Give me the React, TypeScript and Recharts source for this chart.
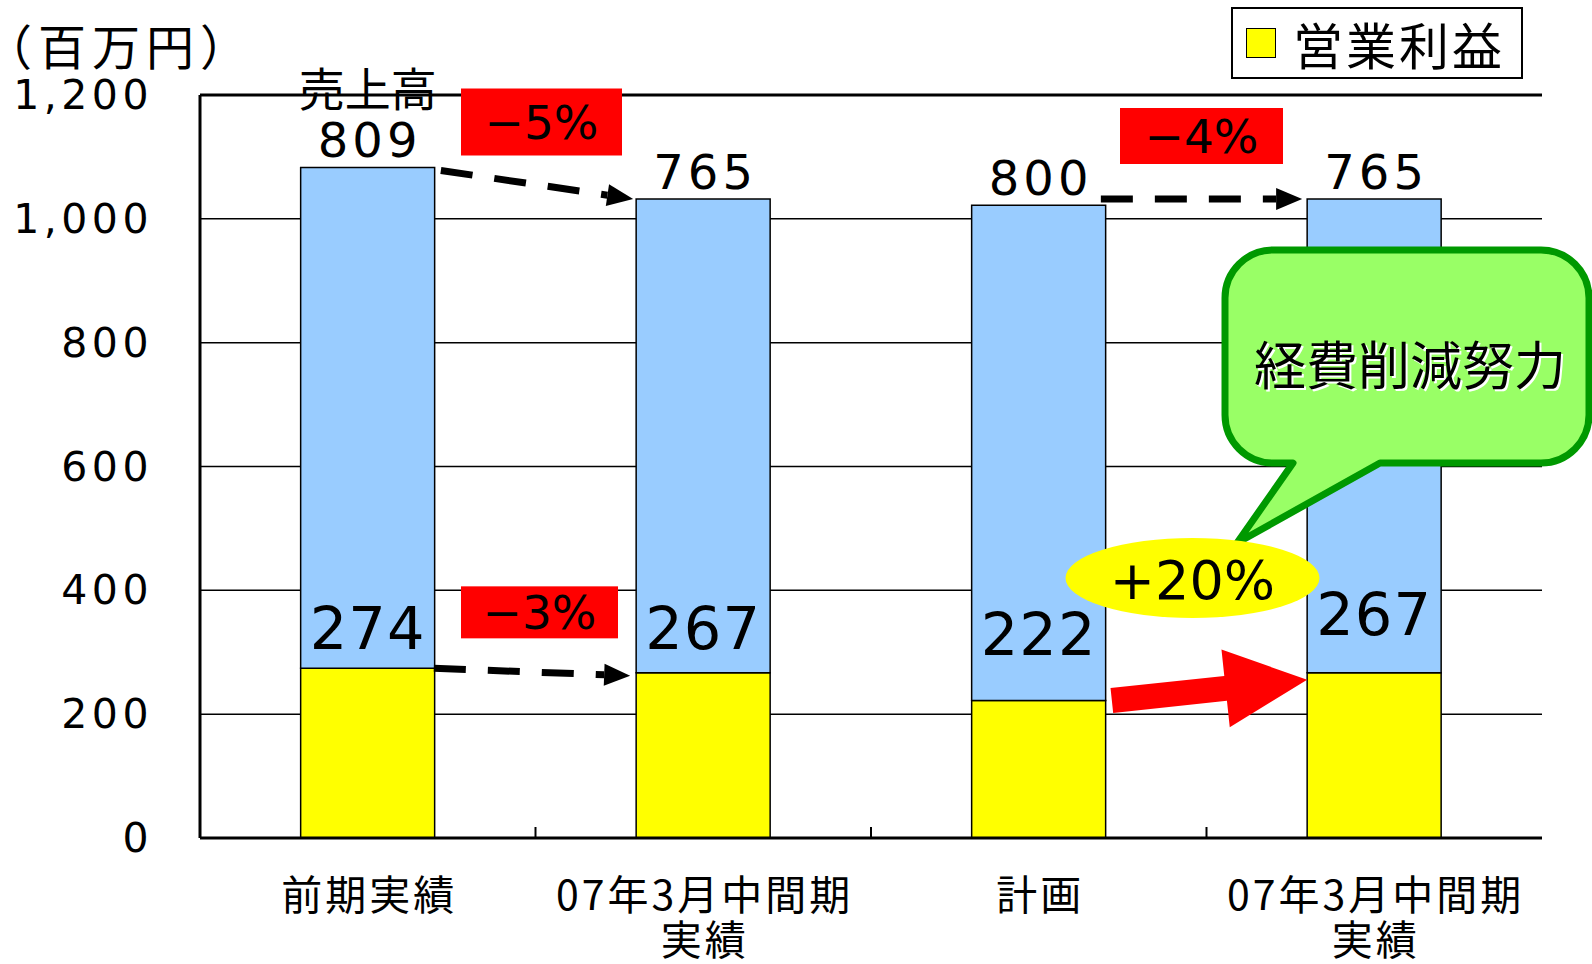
import {
  BarChart,
  Bar,
  XAxis,
  YAxis,
  CartesianGrid,
  LabelList,
  Legend,
  ReferenceLine,
} from "recharts";

const CATEGORIES = ["前期実績", "07年3月中間期\n実績", "計画", "07年3月中間期\n実績"];
const PROFIT = [274, 267, 222, 267]; // 営業利益 (yellow)
const SALES = [809, 765, 800, 765]; // 売上高 (blue, stacked on top)
const Y_TICKS = [0, 200, 400, 600, 800, 1000, 1200];

// how far above the yellow top each profit label sits (px)
const PROFIT_LABEL_LIFT = [19, 24, 46, 38];

const rows = CATEGORIES.map((name, i) => ({
  name,
  profit: PROFIT[i],
  sales: SALES[i],
}));

const NUM = "'DejaVu Sans', sans-serif";
const JP = "'Noto Sans CJK JP', sans-serif";

const W = 1592;
const H = 964;
const PLOT_L = 200;
const PLOT_R = 1542;
const PLOT_T = 95;
const PLOT_B = 838;
const Y_MAX = 1200;
const BAND = (PLOT_R - PLOT_L) / CATEGORIES.length;
const BAR_W = BAND * 0.4;

const cx = (i: number) => PLOT_L + BAND * (i + 0.5);
const barLeft = (i: number) => cx(i) - BAR_W / 2;
const barRight = (i: number) => cx(i) + BAR_W / 2;
const yv = (v: number) => PLOT_B - (v / Y_MAX) * (PLOT_B - PLOT_T);
const total = (i: number) => PROFIT[i] + SALES[i];

function XTick({ x, y, payload, index }: any) {
  const lines = String(payload.value).split("\n");
  return (
    <g>
      {lines.map((line, k) => (
        <text
          key={k}
          x={x + 1.5}
          y={y + 54 + k * 45}
          textAnchor="middle"
          dominantBaseline="central"
          fontFamily={JP}
          fontSize={41}
          letterSpacing={3}
          fill="#000"
        >
          {line}
        </text>
      ))}
      {index < CATEGORIES.length - 1 && (
        <line x1={x + BAND / 2} x2={x + BAND / 2} y1={y} y2={y - 11} stroke="#000" strokeWidth={2} />
      )}
    </g>
  );
}

function YTick({ x, y, payload }: any) {
  return (
    <text
      x={x}
      y={y}
      textAnchor="end"
      dominantBaseline="central"
      fontFamily={NUM}
      fontSize={41}
      letterSpacing={4.5}
      fill="#000"
    >
      {Number(payload.value).toLocaleString("en-US")}
    </text>
  );
}

const SalesLabel = (p: any) => (
  <text
    x={p.x + p.width / 2 + 2}
    y={p.y - 10}
    textAnchor="middle"
    fontFamily={NUM}
    fontSize={48}
    letterSpacing={4}
    fill="#000"
  >
    {p.value}
  </text>
);

const ProfitLabel = (p: any) => (
  <text
    x={p.x + p.width / 2}
    y={p.y - PROFIT_LABEL_LIFT[p.index]}
    textAnchor="middle"
    fontFamily={NUM}
    fontSize={59}
    letterSpacing={1}
    fill="#000"
  >
    {p.value}
  </text>
);

const renderLegend = (props: any) => {
  const item = (props.payload || []).find((d: any) => d.value === "営業利益");
  return (
    <div
      style={{
        boxSizing: "border-box",
        width: 292,
        height: 72,
        border: "2px solid #000",
        background: "#fff",
        display: "flex",
        alignItems: "center",
        paddingLeft: 13,
      }}
    >
      <span
        style={{
          display: "inline-block",
          boxSizing: "border-box",
          width: 30,
          height: 30,
          background: item?.color ?? "#FFFF00",
          border: "1.5px solid #000",
        }}
      />
      <span style={{ marginLeft: 17, fontFamily: JP, fontSize: 50, letterSpacing: 3, lineHeight: 1 }}>
        営業利益
      </span>
    </div>
  );
};

function DashedArrow({ x1, y1, x2, y2 }: { x1: number; y1: number; x2: number; y2: number }) {
  const len = Math.hypot(x2 - x1, y2 - y1);
  const ux = (x2 - x1) / len;
  const uy = (y2 - y1) / len;
  const head = 26;
  const hw = 11;
  const bx = x2 - ux * head;
  const by = y2 - uy * head;
  return (
    <g>
      <line x1={x1} y1={y1} x2={bx} y2={by} stroke="#000" strokeWidth={7} strokeDasharray="32 22" />
      <polygon
        points={`${x2},${y2} ${bx - uy * hw},${by + ux * hw} ${bx + uy * hw},${by - ux * hw}`}
        fill="#000"
      />
    </g>
  );
}

function BlockArrow({ x1, y1, x2, y2 }: { x1: number; y1: number; x2: number; y2: number }) {
  const len = Math.hypot(x2 - x1, y2 - y1);
  const ux = (x2 - x1) / len;
  const uy = (y2 - y1) / len;
  const nx = -uy;
  const ny = ux;
  const head = 82;
  const sw = 12.5;
  const hw = 39;
  const bx = x2 - ux * head;
  const by = y2 - uy * head;
  const pts = [
    [x1 + nx * sw, y1 + ny * sw],
    [bx + nx * sw, by + ny * sw],
    [bx + nx * hw, by + ny * hw],
    [x2, y2],
    [bx - nx * hw, by - ny * hw],
    [bx - nx * sw, by - ny * sw],
    [x1 - nx * sw, y1 - ny * sw],
  ];
  return <polygon points={pts.map((p) => p.join(",")).join(" ")} fill="#FF0000" />;
}

function RedTag({ x, y, w, h, text }: { x: number; y: number; w: number; h: number; text: string }) {
  return (
    <g>
      <rect x={x - w / 2} y={y - h / 2} width={w} height={h} fill="#FF0000" />
      <text
        x={x}
        y={y}
        textAnchor="middle"
        dominantBaseline="central"
        fontFamily={NUM}
        fontSize={47}
        fill="#000"
      >
        {text}
      </text>
    </g>
  );
}

function Bubble() {
  const x0 = 1225;
  const x1 = 1589;
  const y0 = 250;
  const y1 = 463;
  const r = 48;
  const tailL = 1293;
  const tailR = 1380;
  const tipX = 1237;
  const tipY = 543;
  const d = [
    `M${x0 + r},${y0}`,
    `H${x1 - r}`,
    `A${r},${r} 0 0 1 ${x1},${y0 + r}`,
    `V${y1 - r}`,
    `A${r},${r} 0 0 1 ${x1 - r},${y1}`,
    `H${tailR}`,
    `L${tipX},${tipY}`,
    `L${tailL},${y1}`,
    `H${x0 + r}`,
    `A${r},${r} 0 0 1 ${x0},${y1 - r}`,
    `V${y0 + r}`,
    `A${r},${r} 0 0 1 ${x0 + r},${y0}`,
    "Z",
  ].join(" ");
  const tx = 1410;
  const ty = 362;
  return (
    <g>
      <path d={d} fill="#99FF66" stroke="#009900" strokeWidth={7} strokeLinejoin="round" />
      <text x={tx + 2} y={ty + 2} textAnchor="middle" dominantBaseline="central" fontFamily={JP} fontSize={52} fill="#fff">
        経費削減努力
      </text>
      <text x={tx} y={ty} textAnchor="middle" dominantBaseline="central" fontFamily={JP} fontSize={52} fill="#000">
        経費削減努力
      </text>
    </g>
  );
}

function Annotations() {
  const mid01 = (barRight(0) + barLeft(1)) / 2;
  const mid23 = (barRight(2) + barLeft(3)) / 2;
  return (
    <svg
      width={W}
      height={H}
      style={{ position: "absolute", left: 0, top: 0, pointerEvents: "none" }}
    >
      <text x={-16} y={44} textAnchor="start" dominantBaseline="central" fontFamily={JP} fontSize={48} letterSpacing={6} fill="#000">
        （百万円）
      </text>
      <text x={cx(0)} y={86} textAnchor="middle" dominantBaseline="central" fontFamily={JP} fontSize={46} fill="#000">
        売上高
      </text>

      <RedTag x={mid01 + 6} y={PLOT_T + 27} w={161} h={67} text="−5%" />
      <RedTag x={mid23 - 5} y={PLOT_T + 41} w={163} h={56} text="−4%" />
      <RedTag x={mid01 + 4} y={yv(PROFIT[0]) - 56} w={157} h={52} text="−3%" />

      <DashedArrow x1={barRight(0) + 6} y1={yv(total(0)) + 3} x2={barLeft(1) - 3} y2={yv(total(1))} />
      <DashedArrow x1={barRight(2) - 5} y1={yv(total(3))} x2={barLeft(3) - 5} y2={yv(total(3))} />
      <DashedArrow x1={barRight(0) - 1} y1={yv(PROFIT[0])} x2={barLeft(1) - 6} y2={yv(PROFIT[1]) + 3} />

      <BlockArrow x1={barRight(2) + 6} y1={yv(PROFIT[2])} x2={barLeft(3)} y2={yv(PROFIT[3]) + 7} />

      <Bubble />

      <ellipse cx={mid23 - 14} cy={578} rx={127} ry={40} fill="#FFFF00" />
      <text x={mid23 - 14} y={580} textAnchor="middle" dominantBaseline="central" fontFamily={NUM} fontSize={54} fill="#000">
        +20%
      </text>
    </svg>
  );
}

export default function App() {
  return (
    <div style={{ position: "fixed", left: 0, top: 0, width: W, height: H, background: "#fff" }}>
      <BarChart
        width={W}
        height={H}
        data={rows}
        margin={{ top: PLOT_T, right: W - PLOT_R, bottom: 6, left: 0 }}
        barCategoryGap="30%"
      >
        <CartesianGrid yAxisId="l" vertical={false} stroke="#000" strokeWidth={1.5} />
        <XAxis
          dataKey="name"
          height={120}
          tickSize={0}
          tickMargin={0}
          tick={<XTick />}
          axisLine={{ stroke: "#000", strokeWidth: 3 }}
          interval={0}
        />
        <YAxis
          yAxisId="l"
          width={PLOT_L}
          domain={[0, Y_MAX]}
          ticks={Y_TICKS}
          tickSize={0}
          tickMargin={47}
          tick={<YTick />}
          axisLine={{ stroke: "#000", strokeWidth: 3 }}
        />
        <YAxis
          yAxisId="r"
          orientation="right"
          width={0}
          domain={[0, Y_MAX]}
          tick={false}
          tickLine={false}
          axisLine={{ stroke: "#000", strokeWidth: 3 }}
        />
        <ReferenceLine yAxisId="l" y={Y_MAX} stroke="#000" strokeWidth={3} />
        <Legend
          content={renderLegend}
          layout="horizontal"
          verticalAlign="middle"
          align="center"
          wrapperStyle={{ position: "absolute", left: 1231, top: 7, width: 292, height: 72 }}
        />
        <Bar
          yAxisId="l"
          dataKey="profit"
          name="営業利益"
          stackId="a"
          fill="#FFFF00"
          stroke="#000"
          strokeWidth={1.5}
          isAnimationActive={false}
        >
          <LabelList dataKey="profit" content={ProfitLabel} />
        </Bar>
        <Bar
          yAxisId="l"
          dataKey="sales"
          name="売上高"
          stackId="a"
          fill="#99CCFF"
          stroke="#000"
          strokeWidth={1.5}
          legendType="none"
          isAnimationActive={false}
        >
          <LabelList dataKey="sales" content={SalesLabel} />
        </Bar>
      </BarChart>
      <Annotations />
    </div>
  );
}
